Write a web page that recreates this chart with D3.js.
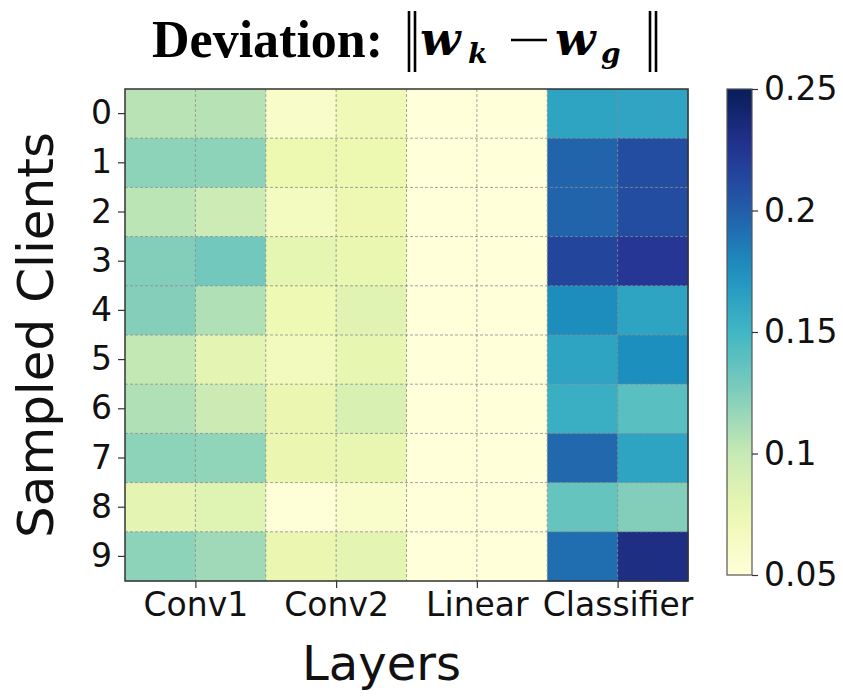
<!DOCTYPE html>
<html>
<head>
<meta charset="utf-8">
<script src="https://cdn.jsdelivr.net/npm/d3@7"></script>
<style>
  html, body { margin: 0; padding: 0; background: #fff; }
  svg { display: block; }
</style>
</head>
<body>
<svg id="chart" width="843" height="698"></svg>
<script>
// Per-layer deviation ||w_k - w_g|| for each sampled client (two columns per layer)
const clients = [0, 1, 2, 3, 4, 5, 6, 7, 8, 9];
const layers = ["Conv1", "Conv2", "Linear", "Classifier"];
const conv1 = [
  [0.105, 0.106], [0.120, 0.120], [0.104, 0.096], [0.124, 0.130], [0.123, 0.108],
  [0.101, 0.081], [0.108, 0.097], [0.120, 0.119], [0.081, 0.084], [0.120, 0.114]
];
const conv2 = [
  [0.060, 0.070], [0.075, 0.075], [0.065, 0.074], [0.080, 0.077], [0.073, 0.083],
  [0.067, 0.079], [0.076, 0.088], [0.076, 0.078], [0.051, 0.058], [0.076, 0.081]
];
const linear = [
  [0.050, 0.050], [0.050, 0.050], [0.050, 0.050], [0.050, 0.050], [0.050, 0.050],
  [0.050, 0.050], [0.050, 0.050], [0.050, 0.050], [0.050, 0.050], [0.050, 0.050]
];
const classifier = [
  [0.163, 0.162], [0.197, 0.210], [0.197, 0.210], [0.215, 0.224], [0.177, 0.163],
  [0.163, 0.176], [0.155, 0.140], [0.195, 0.163], [0.135, 0.124], [0.192, 0.232]
];
const colorTicks = [0.05, 0.1, 0.15, 0.2, 0.25];
const colorTickLabels = ["0.05", "0.1", "0.15", "0.2", "0.25"];
const colorDomain = [0.05, 0.25];

const layerData = [conv1, conv2, linear, classifier];
const nCols = layers.length * 2;
const cells = [];
clients.forEach((c, r) => {
  layerData.forEach((arr, li) => {
    arr[r].forEach((v, j) => cells.push({ row: c, col: li * 2 + j, value: v }));
  });
});

// YlGnBu (ColorBrewer 9-class), piecewise linear like matplotlib
const ylgnbu = ["#ffffd9", "#edf8b1", "#c7e9b4", "#7fcdbb", "#41b6c4",
                "#1d91c0", "#225ea8", "#253494", "#081d58"];
const color = d3.scaleLinear()
  .domain(ylgnbu.map((_, i) => colorDomain[0] + i * (colorDomain[1] - colorDomain[0]) / (ylgnbu.length - 1)))
  .range(ylgnbu)
  .interpolate(d3.interpolateRgb)
  .clamp(true);

const svg = d3.select("#chart");
const plot = { left: 125, right: 688, top: 89, bottom: 581 };

const x = d3.scaleLinear().domain([0, nCols]).range([plot.left, plot.right]);
const y = d3.scaleBand().domain(clients).range([plot.top, plot.bottom]).padding(0);

// heatmap cells
svg.append("g").selectAll("rect").data(cells).join("rect")
  .attr("x", d => x(d.col))
  .attr("y", d => y(d.row))
  .attr("width", x(1) - x(0) + 0.5)
  .attr("height", y.bandwidth() + 0.5)
  .attr("fill", d => color(d.value));

// dashed grid at cell boundaries
const grid = svg.append("g")
  .attr("stroke", "#8c8c8c")
  .attr("stroke-opacity", 0.8)
  .attr("stroke-width", 1)
  .attr("stroke-dasharray", "3,2");
d3.range(1, nCols).forEach(i => {
  grid.append("line").attr("x1", x(i)).attr("x2", x(i))
    .attr("y1", plot.top).attr("y2", plot.bottom);
});
clients.slice(1).forEach(c => {
  grid.append("line").attr("x1", plot.left).attr("x2", plot.right)
    .attr("y1", y(c)).attr("y2", y(c));
});

// frame
svg.append("rect")
  .attr("x", plot.left).attr("y", plot.top)
  .attr("width", plot.right - plot.left).attr("height", plot.bottom - plot.top)
  .attr("fill", "none").attr("stroke", "#333").attr("stroke-width", 1.5);

const tickFont = "'DejaVu Sans', sans-serif";
const tickSize = 33;

// y axis
const yAxis = svg.append("g")
  .attr("transform", `translate(${plot.left},0)`)
  .call(d3.axisLeft(y).tickSize(7).tickPadding(6));
yAxis.select(".domain").remove();
yAxis.selectAll(".tick line").attr("stroke", "#333").attr("stroke-width", 1.2);
yAxis.selectAll(".tick text")
  .attr("font-family", tickFont).attr("font-size", tickSize).attr("fill", "#111");

// x axis: one tick per layer, centred on its column pair
const xAxis = svg.append("g")
  .attr("transform", `translate(0,${plot.bottom})`)
  .call(d3.axisBottom(x)
    .tickValues(layers.map((_, i) => i * 2 + 1))
    .tickFormat((d, i) => layers[i])
    .tickSize(7).tickPadding(5));
xAxis.select(".domain").remove();
xAxis.selectAll(".tick line").attr("stroke", "#333").attr("stroke-width", 1.2);
xAxis.selectAll(".tick text")
  .attr("font-family", tickFont).attr("font-size", tickSize).attr("fill", "#111");

// axis titles
svg.append("text")
  .attr("x", (plot.left + plot.right) / 2 - 25).attr("y", 680)
  .attr("text-anchor", "middle")
  .attr("font-family", tickFont).attr("font-size", 48).attr("fill", "#111")
  .text("Layers");
svg.append("text")
  .attr("transform", `translate(53,${(plot.top + plot.bottom) / 2}) rotate(-90)`)
  .attr("text-anchor", "middle")
  .attr("font-family", tickFont).attr("font-size", 50).attr("fill", "#111")
  .text("Sampled Clients");

// colorbar
const cb = { left: 727, width: 25, top: 89, bottom: 575 };
const cScale = d3.scaleLinear().domain(colorDomain).range([cb.bottom, cb.top]);
const defs = svg.append("defs");
const grad = defs.append("linearGradient").attr("id", "cbGrad")
  .attr("x1", 0).attr("y1", 1).attr("x2", 0).attr("y2", 0);
d3.range(0, 1.0001, 0.05).forEach(t => {
  grad.append("stop").attr("offset", t)
    .attr("stop-color", color(colorDomain[0] + t * (colorDomain[1] - colorDomain[0])));
});
svg.append("rect")
  .attr("x", cb.left).attr("y", cb.top)
  .attr("width", cb.width).attr("height", cb.bottom - cb.top)
  .attr("fill", "url(#cbGrad)")
  .attr("stroke", "#555").attr("stroke-width", 1.2);
const cAxis = svg.append("g")
  .attr("transform", `translate(${cb.left + cb.width},0)`)
  .call(d3.axisRight(cScale).tickValues(colorTicks)
    .tickFormat((d, i) => colorTickLabels[i]).tickSize(6).tickPadding(6));
cAxis.select(".domain").remove();
cAxis.selectAll(".tick line").attr("stroke", "#333").attr("stroke-width", 1.2);
cAxis.selectAll(".tick text")
  .attr("font-family", tickFont).attr("font-size", tickSize).attr("fill", "#111");

// title: "Deviation: ||w_k - w_g||"
const title = svg.append("g").attr("fill", "#000");
title.append("text")
  .attr("x", 152).attr("y", 57)
  .attr("font-family", "'Liberation Serif', 'Times New Roman', serif")
  .attr("font-weight", "bold").attr("font-size", 52)
  .text("Deviation:");
const mathFont = "'DejaVu Serif', serif";
const norm = title.append("g").attr("stroke", "#000").attr("stroke-width", 2.6);
[409, 415, 650, 656].forEach(px => {
  norm.append("line").attr("x1", px).attr("x2", px).attr("y1", 11).attr("y2", 72);
});
const math = title.append("text")
  .attr("font-family", mathFont).attr("font-weight", "bold").attr("font-style", "italic");
math.append("tspan").attr("x", 420).attr("y", 55).attr("font-size", 47).text("w");
math.append("tspan").attr("x", 468).attr("y", 63).attr("font-size", 28).text("k");
math.append("tspan").attr("x", 555).attr("y", 55).attr("font-size", 47).text("w");
math.append("tspan").attr("x", 601).attr("y", 63).attr("font-size", 28).text("g");
title.append("line")
  .attr("x1", 511).attr("x2", 547).attr("y1", 40).attr("y2", 40)
  .attr("stroke", "#000").attr("stroke-width", 2.4);
</script>
</body>
</html>
